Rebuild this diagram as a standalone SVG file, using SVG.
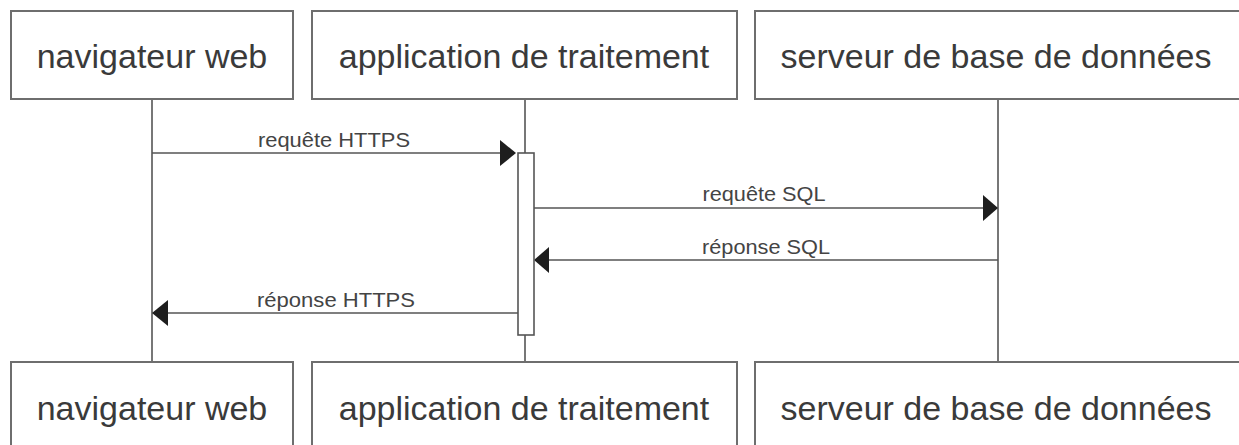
<svg xmlns="http://www.w3.org/2000/svg" width="1239" height="445" viewBox="0 0 1239 445">
  <style>
    .box { fill: #ffffff; stroke: #6e6e6e; stroke-width: 2; }
    .big { font-family: "Liberation Sans", Arial, sans-serif; font-size: 34px; fill: #3a3a3a; text-anchor: middle; }
    .lbl { font-family: "Liberation Sans", Arial, sans-serif; font-size: 21px; fill: #444444; text-anchor: middle; }
    .life { stroke: #555555; stroke-width: 1.6; fill: none; }
    .msg { stroke: #555555; stroke-width: 1.6; fill: none; }
    .act { fill: #ffffff; stroke: #555555; stroke-width: 1.6; }
    .head { fill: #1e1e1e; stroke: none; }
  </style>
  <rect width="1239" height="445" fill="#ffffff"/>

  <g id="connectors">
    <line class="life" x1="152" y1="99" x2="152" y2="362"/>
    <line class="life" x1="525" y1="99" x2="525" y2="362"/>
    <line class="life" x1="998" y1="99" x2="998" y2="362"/>

    <g id="msg-requete-https">
      <line class="msg" x1="152" y1="153" x2="502" y2="153"/>
      <polygon class="head" points="516,153 500,140 500,166"/>
      <text class="lbl" x="334" y="147" textLength="152" lengthAdjust="spacingAndGlyphs">requête HTTPS</text>
    </g>
    <g id="msg-requete-sql">
      <line class="msg" x1="534" y1="208" x2="984" y2="208"/>
      <polygon class="head" points="998,208 983,195 983,221"/>
      <text class="lbl" x="764" y="201" textLength="123" lengthAdjust="spacingAndGlyphs">requête SQL</text>
    </g>
    <g id="msg-reponse-sql">
      <line class="msg" x1="998" y1="260" x2="548" y2="260"/>
      <polygon class="head" points="534,260 549,247 549,273"/>
      <text class="lbl" x="766" y="254" textLength="128" lengthAdjust="spacingAndGlyphs">réponse SQL</text>
    </g>
    <g id="msg-reponse-https">
      <line class="msg" x1="518" y1="313" x2="166" y2="313"/>
      <polygon class="head" points="152,313 168,300 168,326"/>
      <text class="lbl" x="336" y="307" textLength="158" lengthAdjust="spacingAndGlyphs">réponse HTTPS</text>
    </g>
  </g>

  <g id="activation">
    <rect class="act" x="518" y="153" width="16" height="182"/>
  </g>

  <g id="nav-top">
    <rect class="box" x="11" y="11" width="282" height="88"/>
    <text class="big" x="152" y="68">navigateur web</text>
  </g>
  <g id="app-top">
    <rect class="box" x="312" y="11" width="425" height="88"/>
    <text class="big" x="524" y="68">application de traitement</text>
  </g>
  <g id="db-top">
    <rect class="box" x="755" y="11" width="488" height="88"/>
    <text class="big" x="996" y="68">serveur de base de données</text>
  </g>

  <g id="nav-bottom">
    <rect class="box" x="11" y="362" width="282" height="88"/>
    <text class="big" x="152" y="420">navigateur web</text>
  </g>
  <g id="app-bottom">
    <rect class="box" x="312" y="362" width="425" height="88"/>
    <text class="big" x="524" y="420">application de traitement</text>
  </g>
  <g id="db-bottom">
    <rect class="box" x="755" y="362" width="488" height="88"/>
    <text class="big" x="996" y="420">serveur de base de données</text>
  </g>
</svg>
